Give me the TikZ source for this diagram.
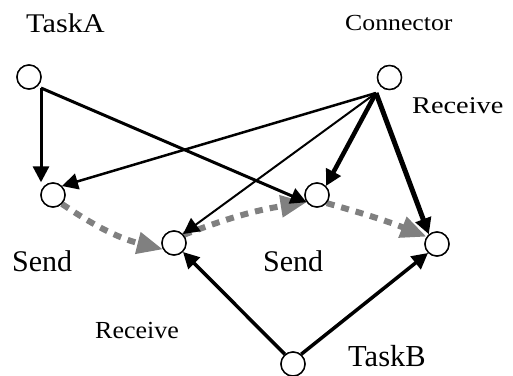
\documentclass[tikz,border=0pt]{standalone}
\usepackage{fontspec}
\setmainfont{Liberation Serif}
\usetikzlibrary{arrows.meta,calc}
\begin{document}
\begin{tikzpicture}[x=1pt,y=1pt,
  port/.style={circle,draw=black,fill=white,line width=1.4pt,minimum size=24pt,inner sep=0pt},
  lbl/.style={anchor=base west,inner sep=0pt},
  blk/.style={draw=black,-{Triangle[length=16pt,width=16pt]}},
  gry/.style={draw=gray,line width=6pt,dash pattern=on 8pt off 7pt,-{Triangle[length=26pt,width=21pt]}}
]
\useasboundingbox (0,0) rectangle (513,-375);
% ports
\node[port] (TA) at (29,-77) {};
\node[port] (CO) at (389.5,-77.5) {};
\node[port] (S1) at (53,-195) {};
\node[port] (M)  at (174,-243) {};
\node[port] (S2) at (317,-195) {};
\node[port] (R)  at (437,-244) {};
\node[port] (TB) at (293,-364) {};
\coordinate (TAo) at (41,-88);
\coordinate (COo) at (376,-93);
% gray dashed sends
\draw[gry] (S1.-45) to[bend right=10] (M.210);
\draw[gry] (M.40) to[bend left=6] (S2.215);
\draw[gry] (S2.-40) to[bend left=3] (R.145);
% black connectors
\draw[blk,line width=3pt] (TAo) -- (TAo |- S1.north);
\draw[blk,line width=3pt] (TAo) -- (S2.215);
\draw[blk,line width=2.5pt] (COo) -- (S1.45);
\draw[blk,line width=2pt] (COo) -- (M.45);
\draw[blk,line width=4.5pt] (COo) -- (S2.45);
\draw[blk,line width=5pt] (COo) -- (R.130);
\draw[blk,line width=3.5pt] (TB.130) -- (M.-45);
\draw[blk,line width=3.5pt] (TB.50) -- (R.225);
% redraw ports on top
\foreach \n in {TA,CO,S1,M,S2,R,TB}{\node[port] at (\n) {};}
% labels
\node[lbl,font=\fontsize{27}{30}\selectfont] (lTA) at (26,-32) {\scalebox{1.12}[1]{TaskA}};
\node[lbl,font=\fontsize{23}{26}\selectfont] (lCO) at (345,-30) {\scalebox{1.12}[1]{Connector}};
\node[lbl,font=\fontsize{24}{27}\selectfont] (lR1) at (412,-113) {\scalebox{1.18}[1]{Receive}};
\node[lbl,font=\fontsize{30}{33}\selectfont] (lS1) at (12,-271) {Send};
\node[lbl,font=\fontsize{30}{33}\selectfont] (lS2) at (263,-271) {Send};
\node[lbl,font=\fontsize{24.5}{27}\selectfont] (lR2) at (95,-338) {\scalebox{1.06}[1]{Receive}};
\node[lbl,font=\fontsize{30.5}{33}\selectfont] (lTB) at (348,-366) {TaskB};
\end{tikzpicture}
\end{document}
